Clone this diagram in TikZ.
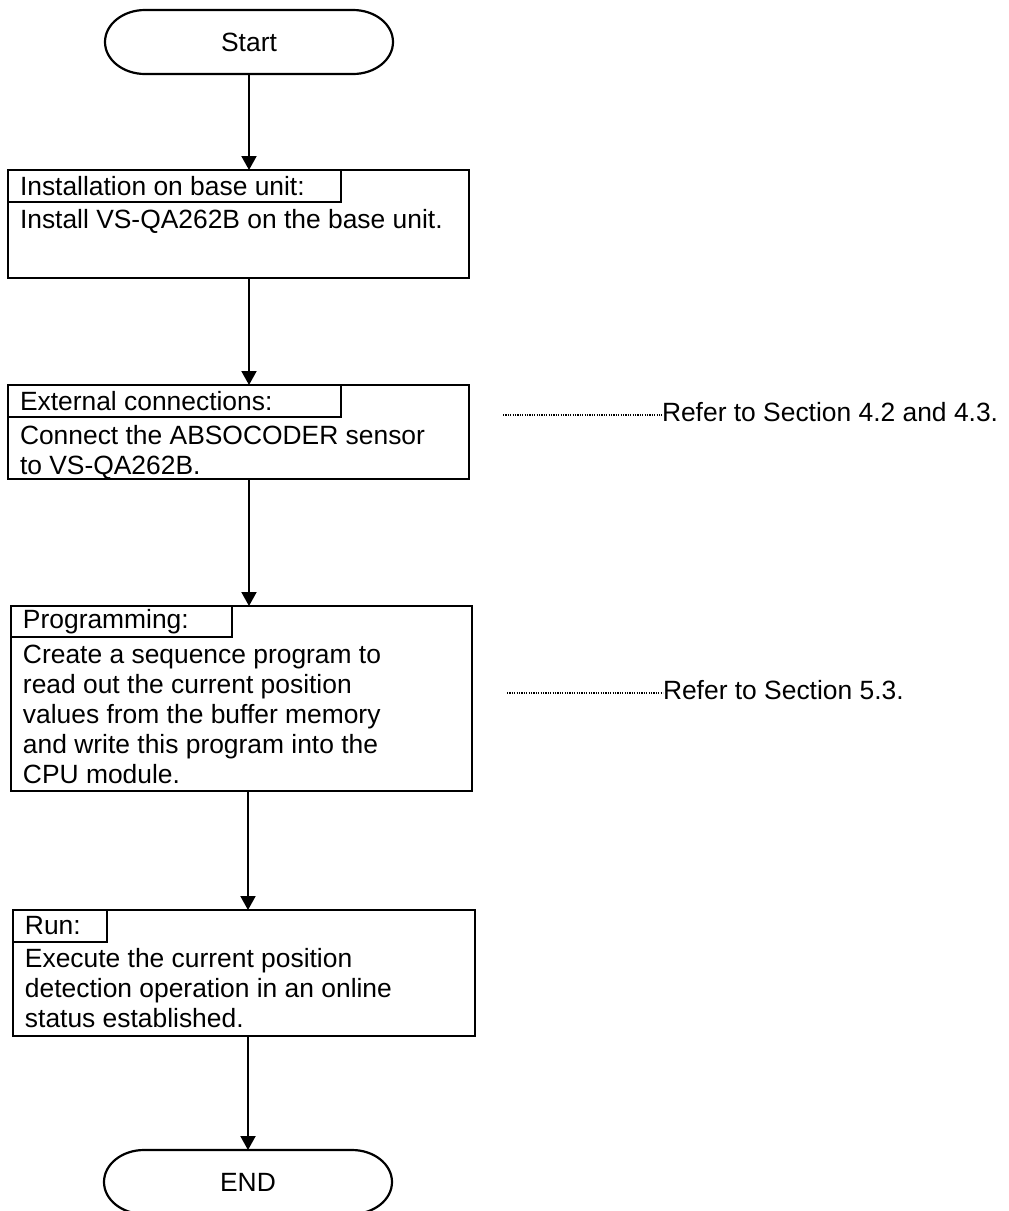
\documentclass[tikz,border=0pt]{standalone}
\usepackage{fontspec}
\setmainfont{Liberation Sans}
\usetikzlibrary{arrows.meta}
\begin{document}
\begin{tikzpicture}[x=0.5pt,y=-0.5pt,
  every node/.style={font=\fontsize{13.2}{15}\selectfont, inner sep=0pt, outer sep=0pt},
  frame/.style={draw, line width=1.1pt, anchor=north west},
  tagline/.style={line width=0.8pt},
  txt/.style={anchor=base west},
  arr/.style={line width=1pt, -{Triangle[length=7pt,width=7.5pt]}},
  refline/.style={line width=0.7pt, dash pattern=on 0.6pt off 0.6pt},
  term/.style={line width=1.1pt},
  termnode/.style={minimum width=144pt, minimum height=32pt}
]
\useasboundingbox (0,0) rectangle (1008,1211);
\clip (0,0) rectangle (1008,1211);

% Start
\node[termnode] (start) at (249,42) {Start};
\draw[term] ([xshift=20pt]start.north west) -- ([xshift=-20pt]start.north east)
  arc[start angle=90,end angle=-90,x radius=20pt,y radius=16pt]
  -- ([xshift=20pt]start.south west)
  arc[start angle=270,end angle=90,x radius=20pt,y radius=16pt] -- cycle;

% Box 1
\node[frame, minimum width=230.5pt, minimum height=54pt] (b1) at (8,170) {};
\draw[tagline] (b1.north west) rectangle ++(333,32);
\node[txt] (t1a) at (20,195) {Installation on base unit:};
\node[txt] (t1b) at (20,228) {Install VS-QA262B on the base unit.};

% Box 2
\node[frame, minimum width=230.5pt, minimum height=47pt] (b2) at (8,385) {};
\draw[tagline] (b2.north west) rectangle ++(333,32);
\node[txt] (t2a) at (20,410) {External connections:};
\node[txt] (t2b) at (20,444) {\begin{tabular}[t]{@{}l@{}}Connect the ABSOCODER sensor\\to VS-QA262B.\end{tabular}};

% Box 3
\node[frame, minimum width=230.5pt, minimum height=92.5pt] (b3) at (11,606) {};
\draw[tagline] (b3.north west) rectangle ++(221,31);
\node[txt] (t3a) at (23,628) {Programming:};
\node[txt] (t3b) at (23,663) {\begin{tabular}[t]{@{}l@{}}Create a sequence program to\\read out the current position\\values from the buffer memory\\and write this program into the\\CPU module.\end{tabular}};

% Box 4
\node[frame, minimum width=231pt, minimum height=63pt] (b4) at (13,910) {};
\draw[tagline] (b4.north west) rectangle ++(94,32);
\node[txt] (t4a) at (25,934) {Run:};
\node[txt] (t4b) at (25,967) {\begin{tabular}[t]{@{}l@{}}Execute the current position\\detection operation in an online\\status established.\end{tabular}};

% End
\node[termnode] (end) at (248,1182) {END};
\draw[term] ([xshift=20pt]end.north west) -- ([xshift=-20pt]end.north east)
  arc[start angle=90,end angle=-90,x radius=20pt,y radius=16pt]
  -- ([xshift=20pt]end.south west)
  arc[start angle=270,end angle=90,x radius=20pt,y radius=16pt] -- cycle;

% Arrows
\draw[arr] (start.south) -- (start.south |- b1.north);
\draw[arr] (b1.south -| start.south) -- (b2.north -| start.south);
\draw[arr] (b2.south -| start.south) -- (b3.north -| start.south);
\draw[arr] (b3.south -| end.north) -- (b4.north -| end.north);
\draw[arr] (b4.south -| end.north) -- (end.north);

% References
\node[txt] (r1) at (662,421) {Refer to Section 4.2 and 4.3.};
\coordinate (d1) at (503,415);
\draw[refline] (d1) -- (d1 -| r1.west);
\node[txt] (r2) at (663,699) {Refer to Section 5.3.};
\coordinate (d2) at (507,693);
\draw[refline] (d2) -- (d2 -| r2.west);
\end{tikzpicture}
\end{document}
